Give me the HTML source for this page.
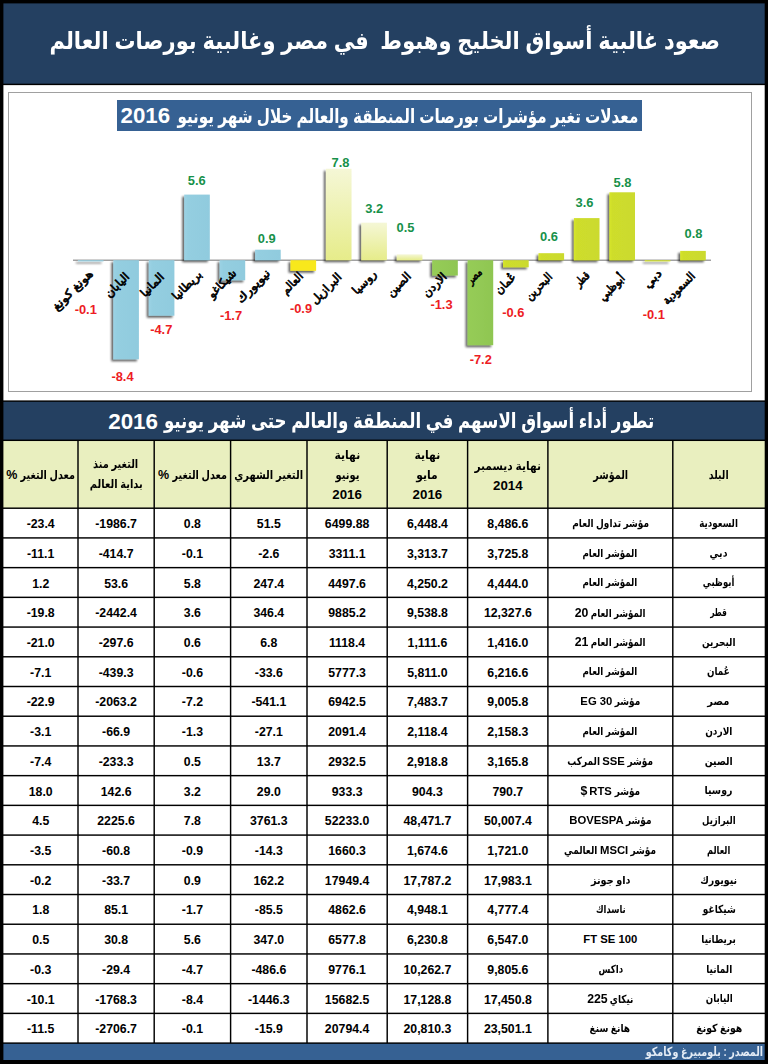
<!DOCTYPE html>
<html lang="ar"><head><meta charset="utf-8"><title>صعود غالبية أسواق الخليج</title>
<style>
html,body{margin:0;padding:0}
body{width:768px;height:1064px;background:#000;position:relative;overflow:hidden;font-family:"Liberation Sans","DejaVu Sans",sans-serif;font-weight:bold;color:#000}
.abs{position:absolute}
.c{position:absolute;display:flex;align-items:center;justify-content:center;text-align:center;background:#fff;white-space:nowrap;overflow:hidden}
.h{background:#e9efbf;font-size:12px;line-height:20px;direction:rtl;flex-direction:column}
.h .hn{font-size:13.3px;direction:ltr}
.h .pc{font-size:12.5px;white-space:pre}
.n{direction:ltr;font-size:12.3px}
.n span,.a>span{position:relative}
.ln{position:absolute;display:block}
.a{direction:rtl;font-size:11.1px}
svg text{font-family:"Liberation Sans","DejaVu Sans",sans-serif;font-weight:bold}
</style></head><body>
<div class="abs" style="left:3px;top:3px;width:762px;height:81px;background:#244061;color:#fff;font-size:24.2px;display:flex;align-items:center;justify-content:center;direction:rtl;white-space:pre"><span id="t1" style="display:inline-block;transform:scaleX(0.8668);margin:0 -51.50px;position:relative;top:-3px;left:0.5px">صعود غالبية أسواق الخليج وهبوط  في مصر وغالبية بورصات العالم</span></div>
<div class="abs" style="left:3px;top:85px;width:762px;height:316px;background:#fff"></div>
<div class="abs" style="left:8px;top:92px;width:742px;height:298px;border:1px solid #a0a0a0;box-sizing:content-box"></div>
<div class="abs" style="left:117px;top:100px;width:525px;height:31px;background:#366193;color:#fff;white-space:nowrap"><span class="abs" style="left:3.5px;top:0px;font-size:22.3px;line-height:31px;direction:ltr">2016</span><span id="t2" style="display:inline-block;transform:scaleX(0.7704);margin:0 0.00px;position:absolute;right:3.7px;top:1px;transform-origin:right center;font-size:19.7px;line-height:31px;direction:rtl">معدلات تغير مؤشرات بورصات المنطقة والعالم خلال شهر يونيو</span></div>
<svg width="760" height="255" viewBox="4 135 760 255" style="position:absolute;left:4px;top:135px">
<defs>
<linearGradient id="gb" x1="0" y1="0" x2="1" y2="0"><stop offset="0" stop-color="#9bd2e4"/><stop offset="0.15" stop-color="#94cee0"/><stop offset="1" stop-color="#90cbde"/></linearGradient>
<linearGradient id="gp" x1="0" y1="0" x2="0" y2="1"><stop offset="0" stop-color="#f5f7d6"/><stop offset="1" stop-color="#e6ec8a"/></linearGradient>
<linearGradient id="gg" x1="0" y1="0" x2="1" y2="0"><stop offset="0" stop-color="#96cc58"/><stop offset="1" stop-color="#8fc651"/></linearGradient>
<linearGradient id="gl" x1="0" y1="0" x2="1" y2="0"><stop offset="0" stop-color="#d6e52a"/><stop offset="0.12" stop-color="#cedd2c"/><stop offset="1" stop-color="#cbda2e"/></linearGradient>
<filter id="sh" x="-30%" y="-10%" width="160%" height="125%"><feGaussianBlur in="SourceAlpha" stdDeviation="1.0"/><feOffset dx="-2.0" dy="1.8"/><feComponentTransfer><feFuncA type="linear" slope="0.62"/></feComponentTransfer><feMerge><feMergeNode/><feMergeNode in="SourceGraphic"/></feMerge></filter>
</defs>
<rect x="73" y="259.6" width="638" height="1.2" fill="#8b8b8b"/>
<g filter="url(#sh)">
<rect x="77.9" y="260.2" width="25.6" height="1.2" fill="url(#gb)"/>
<rect x="113.3" y="260.2" width="25.6" height="99.1" fill="url(#gb)"/>
<rect x="148.8" y="260.2" width="25.6" height="55.5" fill="url(#gb)"/>
<rect x="184.2" y="194.6" width="25.6" height="65.6" fill="url(#gb)"/>
<rect x="219.6" y="260.2" width="25.6" height="20.1" fill="url(#gb)"/>
<rect x="255.1" y="249.7" width="25.6" height="10.5" fill="url(#gb)"/>
<rect x="290.5" y="260.2" width="25.6" height="10.6" fill="#f8e81e"/>
<rect x="325.9" y="168.8" width="25.6" height="91.4" fill="url(#gp)"/>
<rect x="361.3" y="222.7" width="25.6" height="37.5" fill="url(#gp)"/>
<rect x="396.8" y="254.4" width="25.6" height="5.9" fill="url(#gp)"/>
<rect x="432.2" y="260.2" width="25.6" height="15.3" fill="url(#gg)"/>
<rect x="467.6" y="260.2" width="25.6" height="85.0" fill="url(#gg)"/>
<rect x="503.1" y="260.2" width="25.6" height="7.1" fill="url(#gl)"/>
<rect x="538.5" y="253.2" width="25.6" height="7.0" fill="url(#gl)"/>
<rect x="573.9" y="218.1" width="25.6" height="42.2" fill="url(#gl)"/>
<rect x="609.4" y="192.3" width="25.6" height="68.0" fill="url(#gl)"/>
<rect x="644.8" y="260.2" width="25.6" height="1.2" fill="url(#gl)"/>
<rect x="680.2" y="250.9" width="25.6" height="9.4" fill="url(#gl)"/>
</g>
<text x="85.75" y="313.6" text-anchor="middle" font-size="12.9" fill="#ed1c24">-0.1</text>
<text x="122.5" y="381.1" text-anchor="middle" font-size="12.9" fill="#ed1c24">-8.4</text>
<text x="161.25" y="334.4" text-anchor="middle" font-size="12.9" fill="#ed1c24">-4.7</text>
<text x="196.75" y="184.6" text-anchor="middle" font-size="12.9" fill="#17914a">5.6</text>
<text x="231.0" y="319.6" text-anchor="middle" font-size="12.9" fill="#ed1c24">-1.7</text>
<text x="266.75" y="243.1" text-anchor="middle" font-size="12.9" fill="#17914a">0.9</text>
<text x="301.0" y="313.1" text-anchor="middle" font-size="12.9" fill="#ed1c24">-0.9</text>
<text x="340.5" y="166.8" text-anchor="middle" font-size="12.9" fill="#17914a">7.8</text>
<text x="374.25" y="213.1" text-anchor="middle" font-size="12.9" fill="#17914a">3.2</text>
<text x="405.5" y="231.8" text-anchor="middle" font-size="12.9" fill="#17914a">0.5</text>
<text x="441.5" y="308.6" text-anchor="middle" font-size="12.9" fill="#ed1c24">-1.3</text>
<text x="480.75" y="363.6" text-anchor="middle" font-size="12.9" fill="#ed1c24">-7.2</text>
<text x="513.25" y="317.4" text-anchor="middle" font-size="12.9" fill="#ed1c24">-0.6</text>
<text x="549.0" y="241.1" text-anchor="middle" font-size="12.9" fill="#17914a">0.6</text>
<text x="584.5" y="207.1" text-anchor="middle" font-size="12.9" fill="#17914a">3.6</text>
<text x="622.5" y="187.3" text-anchor="middle" font-size="12.9" fill="#17914a">5.8</text>
<text x="653.75" y="318.9" text-anchor="middle" font-size="12.9" fill="#ed1c24">-0.1</text>
<text x="693.5" y="237.8" text-anchor="middle" font-size="12.9" fill="#17914a">0.8</text>
<g font-size="11.5" font-weight="normal" fill="#000" stroke="#000" stroke-width="0.7" stroke-linejoin="round" direction="rtl" text-anchor="start">
<text style="font-weight:normal" transform="translate(90.8 271.65) rotate(-45) scale(1.15 1)" x="0" y="4">هونغ كونغ</text>
<text style="font-weight:normal" transform="translate(127.35 274.65) rotate(-45) scale(1.0199 1)" x="0" y="4">اليابان</text>
<text style="font-weight:normal" transform="translate(162.15 274.8) rotate(-45) scale(1.047 1)" x="0" y="4">المانيا</text>
<text style="font-weight:normal" transform="translate(199.7 272.3) rotate(-45) scale(1.0144 1)" x="0" y="4">بريطانيا</text>
<text style="font-weight:normal" transform="translate(234.35 271.0) rotate(-45) scale(1.0055 1)" x="0" y="4">شيكاغو</text>
<text style="font-weight:normal" transform="translate(268.0 271.15) rotate(-45) scale(1.15 1)" x="0" y="4">نيويورك</text>
<text style="font-weight:normal" transform="translate(301.0 274.15) rotate(-45) scale(0.9415 1)" x="0" y="4">العالم</text>
<text style="font-weight:normal" transform="translate(339.5 274.85) rotate(-45) scale(1.0357 1)" x="0" y="4">البرازيل</text>
<text style="font-weight:normal" transform="translate(374.35 271.85) rotate(-45) scale(1.0366 1)" x="0" y="4">روسيا</text>
<text style="font-weight:normal" transform="translate(408.85 274.15) rotate(-45) scale(0.9963 1)" x="0" y="4">الصين</text>
<text style="font-weight:normal" transform="translate(444.65 274.65) rotate(-45) scale(0.9917 1)" x="0" y="4">الاردن</text>
<text style="font-weight:normal" transform="translate(479.8 270.15) rotate(-45) scale(0.7377 1)" x="0" y="4">مصر</text>
<text style="font-weight:normal" transform="translate(513.75 274.75) rotate(-45) scale(0.9525 1)" x="0" y="4">عُمان</text>
<text style="font-weight:normal" transform="translate(550.3 274.65) rotate(-45) scale(0.9228 1)" x="0" y="4">البحرين</text>
<text style="font-weight:normal" transform="translate(587.5 273.35) rotate(-45) scale(0.7588 1)" x="0" y="4">قطر</text>
<text style="font-weight:normal" transform="translate(622.85 276.15) rotate(-45) scale(0.921 1)" x="0" y="4">أبوظبي</text>
<text style="font-weight:normal" transform="translate(659.7 271.35) rotate(-45) scale(1.15 1)" x="0" y="4">دبي</text>
<text style="font-weight:normal" transform="translate(693.0 274.0) rotate(-45) scale(0.9391 1)" x="0" y="4">السعودية</text>
</g>
</svg>
<div class="abs" style="left:3px;top:401px;width:762px;height:40px;background:#244061;color:#fff;white-space:nowrap"><span class="abs" style="left:105.2px;top:0.5px;font-size:22.4px;line-height:39px;direction:ltr">2016</span><span id="t3" style="display:inline-block;transform:scaleX(0.7919);margin:0 0.00px;position:absolute;right:111.0px;top:0px;transform-origin:right center;font-size:21px;line-height:39px;direction:rtl">تطور أداء أسواق الاسهم في المنطقة والعالم حتى شهر يونيو</span></div>
<div class="c h" style="left:673px;top:440px;width:92px;height:68px"><div style="position:relative;left:-0.2px;top:1.3px"><div><span id="h0_0" style="display:inline-block;transform:scaleX(0.7840);margin:0 -2.70px;">البلد</span></div></div></div>
<div class="c h" style="left:548px;top:440px;width:125px;height:68px"><div style="position:relative;left:-0.2px;top:1.3px"><div><span id="h1_0" style="display:inline-block;transform:scaleX(0.8023);margin:0 -4.25px;">المؤشر</span></div></div></div>
<div class="c h" style="left:468px;top:440px;width:80px;height:68px"><div style="position:relative;left:-0.2px;top:2.3px"><div><span id="h2_0" style="display:inline-block;transform:scaleX(0.8827);margin:0 -4.40px;">نهاية ديسمبر</span></div><div class="hn">2014</div></div></div>
<div class="c h" style="left:387px;top:440px;width:81px;height:68px"><div style="position:relative;left:-0.1px;top:0.8px"><div><span id="h3_0" style="display:inline-block;transform:scaleX(0.8966);margin:0 -1.50px;">نهاية</span></div><div><span id="h3_1" style="display:inline-block;transform:scaleX(0.8958);margin:0 -1.25px;">مايو</span></div><div class="hn">2016</div></div></div>
<div class="c h" style="left:307px;top:440px;width:80px;height:68px"><div style="position:relative;left:0.1px;top:0.8px"><div><span id="h4_0" style="display:inline-block;transform:scaleX(0.8966);margin:0 -1.50px;">نهاية</span></div><div><span id="h4_1" style="display:inline-block;transform:scaleX(0.8276);margin:0 -2.50px;">يونيو</span></div><div class="hn">2016</div></div></div>
<div class="c h" style="left:231px;top:440px;width:76px;height:68px"><div style="position:relative;left:-0.2px;top:1.3px"><div><span id="h5_0" style="display:inline-block;transform:scaleX(0.8283);margin:0 -7.13px;">التغير الشهري</span></div></div></div>
<div class="c h" style="left:154px;top:440px;width:77px;height:68px"><div style="position:relative;left:-0.1px;top:1.3px"><div><span id="h6_0" style="display:inline-block;transform:scaleX(0.8044);margin:0 -6.65px;">معدل التغير</span><span class="pc"> %</span></div></div></div>
<div class="c h" style="left:78px;top:440px;width:76px;height:68px"><div style="position:relative;left:0.1px;top:0.3px"><div><span id="h7_0" style="display:inline-block;transform:scaleX(0.8182);margin:0 -5.00px;">التغير منذ</span></div><div><span id="h7_1" style="display:inline-block;transform:scaleX(0.8203);margin:0 -5.75px;">بداية العالم</span></div></div></div>
<div class="c h" style="left:3px;top:440px;width:75px;height:68px"><div style="position:relative;left:0.2px;top:1.3px"><div><span id="h8_0" style="display:inline-block;transform:scaleX(0.8044);margin:0 -6.65px;">معدل التغير</span><span class="pc"> %</span></div></div></div>
<div class="c a" style="left:673px;top:508px;width:92px;height:30px"><span style="left:-0.2px;top:0.4px"><span id="c0_0" style="display:inline-block;transform:scaleX(0.7898);margin:0 -5.15px;">السعودية</span></span></div>
<div class="c a" style="left:548px;top:508px;width:125px;height:30px"><span style="left:-0.2px;top:0.4px"><span id="c0_1" style="display:inline-block;transform:scaleX(0.8053);margin:0 -9.25px;">مؤشر تداول العام</span></span></div>
<div class="c n" style="left:468px;top:508px;width:80px;height:30px"><span style="left:-0.2px;top:1.1px">8,486.6</span></div>
<div class="c n" style="left:387px;top:508px;width:81px;height:30px"><span style="left:-0.1px;top:1.1px">6,448.4</span></div>
<div class="c n" style="left:307px;top:508px;width:80px;height:30px"><span style="left:0.1px;top:1.1px">6499.88</span></div>
<div class="c n" style="left:231px;top:508px;width:76px;height:30px"><span style="left:-0.2px;top:1.1px">51.5</span></div>
<div class="c n" style="left:154px;top:508px;width:77px;height:30px"><span style="left:-0.1px;top:1.1px">0.8</span></div>
<div class="c n" style="left:78px;top:508px;width:76px;height:30px"><span style="left:0.1px;top:1.1px">-1986.7</span></div>
<div class="c n" style="left:3px;top:508px;width:75px;height:30px"><span style="left:0.2px;top:1.1px">-23.4</span></div>
<div class="c a" style="left:673px;top:538px;width:92px;height:30px"><span style="left:-0.2px;top:0.1px"><span id="c1_0" style="display:inline-block;transform:scaleX(0.8476);margin:0 -1.60px;">دبي</span></span></div>
<div class="c a" style="left:548px;top:538px;width:125px;height:30px"><span style="left:-0.2px;top:0.1px"><span id="c1_1" style="display:inline-block;transform:scaleX(0.7857);margin:0 -7.50px;">المؤشر العام</span></span></div>
<div class="c n" style="left:468px;top:538px;width:80px;height:30px"><span style="left:-0.2px;top:0.8px">3,725.8</span></div>
<div class="c n" style="left:387px;top:538px;width:81px;height:30px"><span style="left:-0.1px;top:0.8px">3,313.7</span></div>
<div class="c n" style="left:307px;top:538px;width:80px;height:30px"><span style="left:0.1px;top:0.8px">3311.1</span></div>
<div class="c n" style="left:231px;top:538px;width:76px;height:30px"><span style="left:-0.2px;top:0.8px">-2.6</span></div>
<div class="c n" style="left:154px;top:538px;width:77px;height:30px"><span style="left:-0.1px;top:0.8px">-0.1</span></div>
<div class="c n" style="left:78px;top:538px;width:76px;height:30px"><span style="left:0.1px;top:0.8px">-414.7</span></div>
<div class="c n" style="left:3px;top:538px;width:75px;height:30px"><span style="left:0.2px;top:0.8px">-11.1</span></div>
<div class="c a" style="left:673px;top:568px;width:92px;height:29px"><span style="left:-0.2px;top:0.3px"><span id="c2_0" style="display:inline-block;transform:scaleX(0.7683);margin:0 -4.75px;">أبوظبي</span></span></div>
<div class="c a" style="left:548px;top:568px;width:125px;height:29px"><span style="left:-0.2px;top:0.3px"><span id="c2_1" style="display:inline-block;transform:scaleX(0.7857);margin:0 -7.50px;">المؤشر العام</span></span></div>
<div class="c n" style="left:468px;top:568px;width:80px;height:29px"><span style="left:-0.2px;top:1.0px">4,444.0</span></div>
<div class="c n" style="left:387px;top:568px;width:81px;height:29px"><span style="left:-0.1px;top:1.0px">4,250.2</span></div>
<div class="c n" style="left:307px;top:568px;width:80px;height:29px"><span style="left:0.1px;top:1.0px">4497.6</span></div>
<div class="c n" style="left:231px;top:568px;width:76px;height:29px"><span style="left:-0.2px;top:1.0px">247.4</span></div>
<div class="c n" style="left:154px;top:568px;width:77px;height:29px"><span style="left:-0.1px;top:1.0px">5.8</span></div>
<div class="c n" style="left:78px;top:568px;width:76px;height:29px"><span style="left:0.1px;top:1.0px">53.6</span></div>
<div class="c n" style="left:3px;top:568px;width:75px;height:29px"><span style="left:0.2px;top:1.0px">1.2</span></div>
<div class="c a" style="left:673px;top:597px;width:92px;height:30px"><span style="left:-0.2px;top:0.5px"><span id="c3_0" style="display:inline-block;transform:scaleX(0.6640);margin:0 -4.20px;">قطر</span></span></div>
<div class="c a" style="left:548px;top:597px;width:125px;height:30px"><span style="left:-0.2px;top:0.5px"><span style="display:inline-block;transform:scaleX(0.7857)">المؤشر العام <span style="display:inline-block;direction:ltr;font-size:12.3px;transform:scaleX(1.2727);margin:0 1.87px">20</span></span></span></div>
<div class="c n" style="left:468px;top:597px;width:80px;height:30px"><span style="left:-0.2px;top:1.2px">12,327.6</span></div>
<div class="c n" style="left:387px;top:597px;width:81px;height:30px"><span style="left:-0.1px;top:1.2px">9,538.8</span></div>
<div class="c n" style="left:307px;top:597px;width:80px;height:30px"><span style="left:0.1px;top:1.2px">9885.2</span></div>
<div class="c n" style="left:231px;top:597px;width:76px;height:30px"><span style="left:-0.2px;top:1.2px">346.4</span></div>
<div class="c n" style="left:154px;top:597px;width:77px;height:30px"><span style="left:-0.1px;top:1.2px">3.6</span></div>
<div class="c n" style="left:78px;top:597px;width:76px;height:30px"><span style="left:0.1px;top:1.2px">-2442.4</span></div>
<div class="c n" style="left:3px;top:597px;width:75px;height:30px"><span style="left:0.2px;top:1.2px">-19.8</span></div>
<div class="c a" style="left:673px;top:627px;width:92px;height:30px"><span style="left:-0.2px;top:0.2px"><span id="c4_0" style="display:inline-block;transform:scaleX(0.8048);margin:0 -4.10px;">البحرين</span></span></div>
<div class="c a" style="left:548px;top:627px;width:125px;height:30px"><span style="left:-0.2px;top:0.2px"><span style="display:inline-block;transform:scaleX(0.7857)">المؤشر العام <span style="display:inline-block;direction:ltr;font-size:12.3px;transform:scaleX(1.2727);margin:0 1.87px">21</span></span></span></div>
<div class="c n" style="left:468px;top:627px;width:80px;height:30px"><span style="left:-0.2px;top:0.9px">1,416.0</span></div>
<div class="c n" style="left:387px;top:627px;width:81px;height:30px"><span style="left:-0.1px;top:0.9px">1,111.6</span></div>
<div class="c n" style="left:307px;top:627px;width:80px;height:30px"><span style="left:0.1px;top:0.9px">1118.4</span></div>
<div class="c n" style="left:231px;top:627px;width:76px;height:30px"><span style="left:-0.2px;top:0.9px">6.8</span></div>
<div class="c n" style="left:154px;top:627px;width:77px;height:30px"><span style="left:-0.1px;top:0.9px">0.6</span></div>
<div class="c n" style="left:78px;top:627px;width:76px;height:30px"><span style="left:0.1px;top:0.9px">-297.6</span></div>
<div class="c n" style="left:3px;top:627px;width:75px;height:30px"><span style="left:0.2px;top:0.9px">-21.0</span></div>
<div class="c a" style="left:673px;top:657px;width:92px;height:29px"><span style="left:-0.2px;top:0.4px"><span id="c5_0" style="display:inline-block;transform:scaleX(0.7897);margin:0 -3.05px;">عُمان</span></span></div>
<div class="c a" style="left:548px;top:657px;width:125px;height:29px"><span style="left:-0.2px;top:0.4px"><span id="c5_1" style="display:inline-block;transform:scaleX(0.7857);margin:0 -7.50px;">المؤشر العام</span></span></div>
<div class="c n" style="left:468px;top:657px;width:80px;height:29px"><span style="left:-0.2px;top:1.1px">6,216.6</span></div>
<div class="c n" style="left:387px;top:657px;width:81px;height:29px"><span style="left:-0.1px;top:1.1px">5,811.0</span></div>
<div class="c n" style="left:307px;top:657px;width:80px;height:29px"><span style="left:0.1px;top:1.1px">5777.3</span></div>
<div class="c n" style="left:231px;top:657px;width:76px;height:29px"><span style="left:-0.2px;top:1.1px">-33.6</span></div>
<div class="c n" style="left:154px;top:657px;width:77px;height:29px"><span style="left:-0.1px;top:1.1px">-0.6</span></div>
<div class="c n" style="left:78px;top:657px;width:76px;height:29px"><span style="left:0.1px;top:1.1px">-439.3</span></div>
<div class="c n" style="left:3px;top:657px;width:75px;height:29px"><span style="left:0.2px;top:1.1px">-7.1</span></div>
<div class="c a" style="left:673px;top:686px;width:92px;height:30px"><span style="left:-0.2px;top:0.7px"><span id="c6_0" style="display:inline-block;transform:scaleX(0.8920);margin:0 -1.35px;">مصر</span></span></div>
<div class="c a" style="left:548px;top:686px;width:125px;height:30px"><span style="left:-0.2px;top:0.7px"><span style="display:inline-block;transform:scaleX(0.8053)">مؤشر <span style="display:inline-block;direction:ltr;font-size:11.3px;transform:scaleX(1.2418);margin:0 3.87px">EG 30</span></span></span></div>
<div class="c n" style="left:468px;top:686px;width:80px;height:30px"><span style="left:-0.2px;top:1.4px">9,005.8</span></div>
<div class="c n" style="left:387px;top:686px;width:81px;height:30px"><span style="left:-0.1px;top:1.4px">7,483.7</span></div>
<div class="c n" style="left:307px;top:686px;width:80px;height:30px"><span style="left:0.1px;top:1.4px">6942.5</span></div>
<div class="c n" style="left:231px;top:686px;width:76px;height:30px"><span style="left:-0.2px;top:1.4px">-541.1</span></div>
<div class="c n" style="left:154px;top:686px;width:77px;height:30px"><span style="left:-0.1px;top:1.4px">-7.2</span></div>
<div class="c n" style="left:78px;top:686px;width:76px;height:30px"><span style="left:0.1px;top:1.4px">-2063.2</span></div>
<div class="c n" style="left:3px;top:686px;width:75px;height:30px"><span style="left:0.2px;top:1.4px">-22.9</span></div>
<div class="c a" style="left:673px;top:716px;width:92px;height:30px"><span style="left:-0.2px;top:0.4px"><span id="c7_0" style="display:inline-block;transform:scaleX(0.8088);margin:0 -3.25px;">الاردن</span></span></div>
<div class="c a" style="left:548px;top:716px;width:125px;height:30px"><span style="left:-0.2px;top:0.4px"><span id="c7_1" style="display:inline-block;transform:scaleX(0.7857);margin:0 -7.50px;">المؤشر العام</span></span></div>
<div class="c n" style="left:468px;top:716px;width:80px;height:30px"><span style="left:-0.2px;top:1.1px">2,158.3</span></div>
<div class="c n" style="left:387px;top:716px;width:81px;height:30px"><span style="left:-0.1px;top:1.1px">2,118.4</span></div>
<div class="c n" style="left:307px;top:716px;width:80px;height:30px"><span style="left:0.1px;top:1.1px">2091.4</span></div>
<div class="c n" style="left:231px;top:716px;width:76px;height:30px"><span style="left:-0.2px;top:1.1px">-27.1</span></div>
<div class="c n" style="left:154px;top:716px;width:77px;height:30px"><span style="left:-0.1px;top:1.1px">-1.3</span></div>
<div class="c n" style="left:78px;top:716px;width:76px;height:30px"><span style="left:0.1px;top:1.1px">-66.9</span></div>
<div class="c n" style="left:3px;top:716px;width:75px;height:30px"><span style="left:0.2px;top:1.1px">-3.1</span></div>
<div class="c a" style="left:673px;top:746px;width:92px;height:30px"><span style="left:-0.2px;top:0.1px"><span id="c8_0" style="display:inline-block;transform:scaleX(0.8333);margin:0 -2.75px;">الصين</span></span></div>
<div class="c a" style="left:548px;top:746px;width:125px;height:30px"><span style="left:-0.2px;top:0.1px"><span style="display:inline-block;transform:scaleX(0.8053)">مؤشر <span style="display:inline-block;direction:ltr;font-size:11.3px;transform:scaleX(1.2418);margin:0 2.73px">SSE</span> المركب</span></span></div>
<div class="c n" style="left:468px;top:746px;width:80px;height:30px"><span style="left:-0.2px;top:0.8px">3,165.8</span></div>
<div class="c n" style="left:387px;top:746px;width:81px;height:30px"><span style="left:-0.1px;top:0.8px">2,918.8</span></div>
<div class="c n" style="left:307px;top:746px;width:80px;height:30px"><span style="left:0.1px;top:0.8px">2932.5</span></div>
<div class="c n" style="left:231px;top:746px;width:76px;height:30px"><span style="left:-0.2px;top:0.8px">13.7</span></div>
<div class="c n" style="left:154px;top:746px;width:77px;height:30px"><span style="left:-0.1px;top:0.8px">0.5</span></div>
<div class="c n" style="left:78px;top:746px;width:76px;height:30px"><span style="left:0.1px;top:0.8px">-233.3</span></div>
<div class="c n" style="left:3px;top:746px;width:75px;height:30px"><span style="left:0.2px;top:0.8px">-7.4</span></div>
<div class="c a" style="left:673px;top:776px;width:92px;height:29px"><span style="left:-0.2px;top:0.3px"><span id="c9_0" style="display:inline-block;transform:scaleX(0.8485);margin:0 -2.50px;">روسيا</span></span></div>
<div class="c a" style="left:548px;top:776px;width:125px;height:29px"><span style="left:-0.2px;top:0.3px"><span style="display:inline-block;transform:scaleX(0.8053)">مؤشر <span style="display:inline-block;direction:ltr;font-size:11.3px;transform:scaleX(1.2418);margin:0 2.73px">RTS</span> <span style="display:inline-block;direction:ltr;font-size:12.3px;transform:scaleX(1.2418);margin:0 0.83px">$</span></span></span></div>
<div class="c n" style="left:468px;top:776px;width:80px;height:29px"><span style="left:-0.2px;top:1.0px">790.7</span></div>
<div class="c n" style="left:387px;top:776px;width:81px;height:29px"><span style="left:-0.1px;top:1.0px">904.3</span></div>
<div class="c n" style="left:307px;top:776px;width:80px;height:29px"><span style="left:0.1px;top:1.0px">933.3</span></div>
<div class="c n" style="left:231px;top:776px;width:76px;height:29px"><span style="left:-0.2px;top:1.0px">29.0</span></div>
<div class="c n" style="left:154px;top:776px;width:77px;height:29px"><span style="left:-0.1px;top:1.0px">3.2</span></div>
<div class="c n" style="left:78px;top:776px;width:76px;height:29px"><span style="left:0.1px;top:1.0px">142.6</span></div>
<div class="c n" style="left:3px;top:776px;width:75px;height:29px"><span style="left:0.2px;top:1.0px">18.0</span></div>
<div class="c a" style="left:673px;top:805px;width:92px;height:30px"><span style="left:-0.2px;top:0.5px"><span id="c10_0" style="display:inline-block;transform:scaleX(0.7682);margin:0 -5.10px;">البرازيل</span></span></div>
<div class="c a" style="left:548px;top:805px;width:125px;height:30px"><span style="left:-0.2px;top:0.5px"><span style="display:inline-block;transform:scaleX(0.8053)">مؤشر <span style="display:inline-block;direction:ltr;font-size:11.3px;transform:scaleX(1.2418);margin:0 6.68px">BOVESPA</span></span></span></div>
<div class="c n" style="left:468px;top:805px;width:80px;height:30px"><span style="left:-0.2px;top:1.2px">50,007.4</span></div>
<div class="c n" style="left:387px;top:805px;width:81px;height:30px"><span style="left:-0.1px;top:1.2px">48,471.7</span></div>
<div class="c n" style="left:307px;top:805px;width:80px;height:30px"><span style="left:0.1px;top:1.2px">52233.0</span></div>
<div class="c n" style="left:231px;top:805px;width:76px;height:30px"><span style="left:-0.2px;top:1.2px">3761.3</span></div>
<div class="c n" style="left:154px;top:805px;width:77px;height:30px"><span style="left:-0.1px;top:1.2px">7.8</span></div>
<div class="c n" style="left:78px;top:805px;width:76px;height:30px"><span style="left:0.1px;top:1.2px">2225.6</span></div>
<div class="c n" style="left:3px;top:805px;width:75px;height:30px"><span style="left:0.2px;top:1.2px">4.5</span></div>
<div class="c a" style="left:673px;top:835px;width:92px;height:30px"><span style="left:-0.2px;top:0.2px"><span id="c11_0" style="display:inline-block;transform:scaleX(0.7484);margin:0 -3.90px;">العالم</span></span></div>
<div class="c a" style="left:548px;top:835px;width:125px;height:30px"><span style="left:-0.2px;top:0.2px"><span style="display:inline-block;transform:scaleX(0.8053)">مؤشر <span style="display:inline-block;direction:ltr;font-size:11.3px;transform:scaleX(1.2418);margin:0 3.42px">MSCI</span> العالمي</span></span></div>
<div class="c n" style="left:468px;top:835px;width:80px;height:30px"><span style="left:-0.2px;top:0.9px">1,721.0</span></div>
<div class="c n" style="left:387px;top:835px;width:81px;height:30px"><span style="left:-0.1px;top:0.9px">1,674.6</span></div>
<div class="c n" style="left:307px;top:835px;width:80px;height:30px"><span style="left:0.1px;top:0.9px">1660.3</span></div>
<div class="c n" style="left:231px;top:835px;width:76px;height:30px"><span style="left:-0.2px;top:0.9px">-14.3</span></div>
<div class="c n" style="left:154px;top:835px;width:77px;height:30px"><span style="left:-0.1px;top:0.9px">-0.9</span></div>
<div class="c n" style="left:78px;top:835px;width:76px;height:30px"><span style="left:0.1px;top:0.9px">-60.8</span></div>
<div class="c n" style="left:3px;top:835px;width:75px;height:30px"><span style="left:0.2px;top:0.9px">-3.5</span></div>
<div class="c a" style="left:673px;top:865px;width:92px;height:30px"><span style="left:-0.2px;top:-0.0px"><span id="c12_0" style="display:inline-block;transform:scaleX(0.8535);margin:0 -3.15px;">نيويورك</span></span></div>
<div class="c a" style="left:548px;top:865px;width:125px;height:30px"><span style="left:-0.2px;top:-0.0px"><span id="c12_1" style="display:inline-block;transform:scaleX(0.8717);margin:0 -2.95px;">داو جونز</span></span></div>
<div class="c n" style="left:468px;top:865px;width:80px;height:30px"><span style="left:-0.2px;top:0.7px">17,983.1</span></div>
<div class="c n" style="left:387px;top:865px;width:81px;height:30px"><span style="left:-0.1px;top:0.7px">17,787.2</span></div>
<div class="c n" style="left:307px;top:865px;width:80px;height:30px"><span style="left:0.1px;top:0.7px">17949.4</span></div>
<div class="c n" style="left:231px;top:865px;width:76px;height:30px"><span style="left:-0.2px;top:0.7px">162.2</span></div>
<div class="c n" style="left:154px;top:865px;width:77px;height:30px"><span style="left:-0.1px;top:0.7px">0.9</span></div>
<div class="c n" style="left:78px;top:865px;width:76px;height:30px"><span style="left:0.1px;top:0.7px">-33.7</span></div>
<div class="c n" style="left:3px;top:865px;width:75px;height:30px"><span style="left:0.2px;top:0.7px">-0.2</span></div>
<div class="c a" style="left:673px;top:895px;width:92px;height:29px"><span style="left:-0.2px;top:0.2px"><span id="c13_0" style="display:inline-block;transform:scaleX(0.8098);margin:0 -3.90px;">شيكاغو</span></span></div>
<div class="c a" style="left:548px;top:895px;width:125px;height:29px"><span style="left:-0.2px;top:0.2px"><span id="c13_1" style="display:inline-block;transform:scaleX(0.7525);margin:0 -4.95px;">ناسداك</span></span></div>
<div class="c n" style="left:468px;top:895px;width:80px;height:29px"><span style="left:-0.2px;top:0.9px">4,777.4</span></div>
<div class="c n" style="left:387px;top:895px;width:81px;height:29px"><span style="left:-0.1px;top:0.9px">4,948.1</span></div>
<div class="c n" style="left:307px;top:895px;width:80px;height:29px"><span style="left:0.1px;top:0.9px">4862.6</span></div>
<div class="c n" style="left:231px;top:895px;width:76px;height:29px"><span style="left:-0.2px;top:0.9px">-85.5</span></div>
<div class="c n" style="left:154px;top:895px;width:77px;height:29px"><span style="left:-0.1px;top:0.9px">-1.7</span></div>
<div class="c n" style="left:78px;top:895px;width:76px;height:29px"><span style="left:0.1px;top:0.9px">85.1</span></div>
<div class="c n" style="left:3px;top:895px;width:75px;height:29px"><span style="left:0.2px;top:0.9px">1.8</span></div>
<div class="c a" style="left:673px;top:924px;width:92px;height:30px"><span style="left:-0.2px;top:0.4px"><span id="c14_0" style="display:inline-block;transform:scaleX(0.8000);margin:0 -4.30px;">بريطانيا</span></span></div>
<div class="c a" style="left:548px;top:924px;width:125px;height:30px"><span style="left:-0.2px;top:0.4px"><span style="direction:ltr;font-size:11.3px">FT SE 100</span></span></div>
<div class="c n" style="left:468px;top:924px;width:80px;height:30px"><span style="left:-0.2px;top:1.1px">6,547.0</span></div>
<div class="c n" style="left:387px;top:924px;width:81px;height:30px"><span style="left:-0.1px;top:1.1px">6,230.8</span></div>
<div class="c n" style="left:307px;top:924px;width:80px;height:30px"><span style="left:0.1px;top:1.1px">6577.8</span></div>
<div class="c n" style="left:231px;top:924px;width:76px;height:30px"><span style="left:-0.2px;top:1.1px">347.0</span></div>
<div class="c n" style="left:154px;top:924px;width:77px;height:30px"><span style="left:-0.1px;top:1.1px">5.6</span></div>
<div class="c n" style="left:78px;top:924px;width:76px;height:30px"><span style="left:0.1px;top:1.1px">30.8</span></div>
<div class="c n" style="left:3px;top:924px;width:75px;height:30px"><span style="left:0.2px;top:1.1px">0.5</span></div>
<div class="c a" style="left:673px;top:954px;width:92px;height:30px"><span style="left:-0.2px;top:0.1px"><span id="c15_0" style="display:inline-block;transform:scaleX(0.8063);margin:0 -3.10px;">المانيا</span></span></div>
<div class="c a" style="left:548px;top:954px;width:125px;height:30px"><span style="left:-0.2px;top:0.1px"><span id="c15_1" style="display:inline-block;transform:scaleX(0.7781);margin:0 -3.55px;">داكس</span></span></div>
<div class="c n" style="left:468px;top:954px;width:80px;height:30px"><span style="left:-0.2px;top:0.8px">9,805.6</span></div>
<div class="c n" style="left:387px;top:954px;width:81px;height:30px"><span style="left:-0.1px;top:0.8px">10,262.7</span></div>
<div class="c n" style="left:307px;top:954px;width:80px;height:30px"><span style="left:0.1px;top:0.8px">9776.1</span></div>
<div class="c n" style="left:231px;top:954px;width:76px;height:30px"><span style="left:-0.2px;top:0.8px">-486.6</span></div>
<div class="c n" style="left:154px;top:954px;width:77px;height:30px"><span style="left:-0.1px;top:0.8px">-4.7</span></div>
<div class="c n" style="left:78px;top:954px;width:76px;height:30px"><span style="left:0.1px;top:0.8px">-29.4</span></div>
<div class="c n" style="left:3px;top:954px;width:75px;height:30px"><span style="left:0.2px;top:0.8px">-0.3</span></div>
<div class="c a" style="left:673px;top:984px;width:92px;height:29px"><span style="left:-0.2px;top:0.3px"><span id="c16_0" style="display:inline-block;transform:scaleX(0.7824);margin:0 -3.70px;">اليابان</span></span></div>
<div class="c a" style="left:548px;top:984px;width:125px;height:29px"><span style="left:-0.2px;top:0.3px"><span style="display:inline-block;transform:scaleX(0.8000)">نيكاي <span style="display:inline-block;direction:ltr;font-size:12.3px;transform:scaleX(1.2500);margin:0 2.57px">225</span></span></span></div>
<div class="c n" style="left:468px;top:984px;width:80px;height:29px"><span style="left:-0.2px;top:1.0px">17,450.8</span></div>
<div class="c n" style="left:387px;top:984px;width:81px;height:29px"><span style="left:-0.1px;top:1.0px">17,128.8</span></div>
<div class="c n" style="left:307px;top:984px;width:80px;height:29px"><span style="left:0.1px;top:1.0px">15682.5</span></div>
<div class="c n" style="left:231px;top:984px;width:76px;height:29px"><span style="left:-0.2px;top:1.0px">-1446.3</span></div>
<div class="c n" style="left:154px;top:984px;width:77px;height:29px"><span style="left:-0.1px;top:1.0px">-8.4</span></div>
<div class="c n" style="left:78px;top:984px;width:76px;height:29px"><span style="left:0.1px;top:1.0px">-1768.3</span></div>
<div class="c n" style="left:3px;top:984px;width:75px;height:29px"><span style="left:0.2px;top:1.0px">-10.1</span></div>
<div class="c a" style="left:673px;top:1013px;width:92px;height:30px"><span style="left:-0.2px;top:0.5px"><span id="c17_0" style="display:inline-block;transform:scaleX(0.8436);margin:0 -4.30px;">هونغ كونغ</span></span></div>
<div class="c a" style="left:548px;top:1013px;width:125px;height:30px"><span style="left:-0.2px;top:0.5px"><span id="c17_1" style="display:inline-block;transform:scaleX(0.8140);margin:0 -4.65px;">هانغ سنغ</span></span></div>
<div class="c n" style="left:468px;top:1013px;width:80px;height:30px"><span style="left:-0.2px;top:1.2px">23,501.1</span></div>
<div class="c n" style="left:387px;top:1013px;width:81px;height:30px"><span style="left:-0.1px;top:1.2px">20,810.3</span></div>
<div class="c n" style="left:307px;top:1013px;width:80px;height:30px"><span style="left:0.1px;top:1.2px">20794.4</span></div>
<div class="c n" style="left:231px;top:1013px;width:76px;height:30px"><span style="left:-0.2px;top:1.2px">-15.9</span></div>
<div class="c n" style="left:154px;top:1013px;width:77px;height:30px"><span style="left:-0.1px;top:1.2px">-0.1</span></div>
<div class="c n" style="left:78px;top:1013px;width:76px;height:30px"><span style="left:0.1px;top:1.2px">-2706.7</span></div>
<div class="c n" style="left:3px;top:1013px;width:75px;height:30px"><span style="left:0.2px;top:1.2px">-11.5</span></div>
<div class="abs" style="left:3px;top:1043px;width:762px;height:17px;background:#366193;color:#e3ebf5;font-size:12.5px;direction:rtl;text-align:right;line-height:18px;white-space:nowrap"><span id="t4" style="display:inline-block;transform:scaleX(0.7667);margin:0 0.00px;transform-origin:right center;margin-right:1.5px">المصدر : بلومبيرغ وكامكو</span></div>
<i class="ln" style="left:77px;top:441px;width:1px;height:602px;background:rgba(0,0,0,0.72)"></i><i class="ln" style="left:78px;top:441px;width:1px;height:602px;background:rgba(0,0,0,0.72)"></i>
<i class="ln" style="left:153px;top:441px;width:1px;height:602px;background:rgba(0,0,0,0.53)"></i><i class="ln" style="left:154px;top:441px;width:1px;height:602px;background:rgba(0,0,0,0.92)"></i>
<i class="ln" style="left:229px;top:441px;width:1px;height:602px;background:rgba(0,0,0,0.12)"></i><i class="ln" style="left:230px;top:441px;width:1px;height:602px;background:rgba(0,0,0,1.00)"></i><i class="ln" style="left:231px;top:441px;width:1px;height:602px;background:rgba(0,0,0,0.32)"></i>
<i class="ln" style="left:306px;top:441px;width:1px;height:602px;background:rgba(0,0,0,0.73)"></i><i class="ln" style="left:307px;top:441px;width:1px;height:602px;background:rgba(0,0,0,0.73)"></i>
<i class="ln" style="left:386px;top:441px;width:1px;height:602px;background:rgba(0,0,0,0.53)"></i><i class="ln" style="left:387px;top:441px;width:1px;height:602px;background:rgba(0,0,0,0.93)"></i>
<i class="ln" style="left:466px;top:441px;width:1px;height:602px;background:rgba(0,0,0,0.12)"></i><i class="ln" style="left:467px;top:441px;width:1px;height:602px;background:rgba(0,0,0,1.00)"></i><i class="ln" style="left:468px;top:441px;width:1px;height:602px;background:rgba(0,0,0,0.33)"></i>
<i class="ln" style="left:547px;top:441px;width:1px;height:602px;background:rgba(0,0,0,0.83)"></i><i class="ln" style="left:548px;top:441px;width:1px;height:602px;background:rgba(0,0,0,0.62)"></i>
<i class="ln" style="left:672px;top:441px;width:1px;height:602px;background:rgba(0,0,0,0.93)"></i><i class="ln" style="left:673px;top:441px;width:1px;height:602px;background:rgba(0,0,0,0.52)"></i>
<i class="ln" style="left:3px;top:439px;width:762px;height:1px;background:rgba(0,0,0,0.43)"></i><i class="ln" style="left:3px;top:440px;width:762px;height:1px;background:rgba(0,0,0,1.00)"></i><i class="ln" style="left:3px;top:441px;width:762px;height:1px;background:rgba(0,0,0,0.03)"></i>
<i class="ln" style="left:3px;top:507px;width:762px;height:1px;background:rgba(0,0,0,0.53)"></i><i class="ln" style="left:3px;top:508px;width:762px;height:1px;background:rgba(0,0,0,0.93)"></i>
<i class="ln" style="left:3px;top:537px;width:762px;height:1px;background:rgba(0,0,0,0.81)"></i><i class="ln" style="left:3px;top:538px;width:762px;height:1px;background:rgba(0,0,0,0.64)"></i>
<i class="ln" style="left:3px;top:566px;width:762px;height:1px;background:rgba(0,0,0,0.09)"></i><i class="ln" style="left:3px;top:567px;width:762px;height:1px;background:rgba(0,0,0,1.00)"></i><i class="ln" style="left:3px;top:568px;width:762px;height:1px;background:rgba(0,0,0,0.36)"></i>
<i class="ln" style="left:3px;top:596px;width:762px;height:1px;background:rgba(0,0,0,0.38)"></i><i class="ln" style="left:3px;top:597px;width:762px;height:1px;background:rgba(0,0,0,1.00)"></i><i class="ln" style="left:3px;top:598px;width:762px;height:1px;background:rgba(0,0,0,0.07)"></i>
<i class="ln" style="left:3px;top:626px;width:762px;height:1px;background:rgba(0,0,0,0.66)"></i><i class="ln" style="left:3px;top:627px;width:762px;height:1px;background:rgba(0,0,0,0.79)"></i>
<i class="ln" style="left:3px;top:656px;width:762px;height:1px;background:rgba(0,0,0,0.94)"></i><i class="ln" style="left:3px;top:657px;width:762px;height:1px;background:rgba(0,0,0,0.51)"></i>
<i class="ln" style="left:3px;top:685px;width:762px;height:1px;background:rgba(0,0,0,0.23)"></i><i class="ln" style="left:3px;top:686px;width:762px;height:1px;background:rgba(0,0,0,1.00)"></i><i class="ln" style="left:3px;top:687px;width:762px;height:1px;background:rgba(0,0,0,0.23)"></i>
<i class="ln" style="left:3px;top:715px;width:762px;height:1px;background:rgba(0,0,0,0.51)"></i><i class="ln" style="left:3px;top:716px;width:762px;height:1px;background:rgba(0,0,0,0.94)"></i>
<i class="ln" style="left:3px;top:745px;width:762px;height:1px;background:rgba(0,0,0,0.79)"></i><i class="ln" style="left:3px;top:746px;width:762px;height:1px;background:rgba(0,0,0,0.66)"></i>
<i class="ln" style="left:3px;top:774px;width:762px;height:1px;background:rgba(0,0,0,0.08)"></i><i class="ln" style="left:3px;top:775px;width:762px;height:1px;background:rgba(0,0,0,1.00)"></i><i class="ln" style="left:3px;top:776px;width:762px;height:1px;background:rgba(0,0,0,0.37)"></i>
<i class="ln" style="left:3px;top:804px;width:762px;height:1px;background:rgba(0,0,0,0.36)"></i><i class="ln" style="left:3px;top:805px;width:762px;height:1px;background:rgba(0,0,0,1.00)"></i><i class="ln" style="left:3px;top:806px;width:762px;height:1px;background:rgba(0,0,0,0.09)"></i>
<i class="ln" style="left:3px;top:834px;width:762px;height:1px;background:rgba(0,0,0,0.64)"></i><i class="ln" style="left:3px;top:835px;width:762px;height:1px;background:rgba(0,0,0,0.81)"></i>
<i class="ln" style="left:3px;top:864px;width:762px;height:1px;background:rgba(0,0,0,0.93)"></i><i class="ln" style="left:3px;top:865px;width:762px;height:1px;background:rgba(0,0,0,0.52)"></i>
<i class="ln" style="left:3px;top:893px;width:762px;height:1px;background:rgba(0,0,0,0.21)"></i><i class="ln" style="left:3px;top:894px;width:762px;height:1px;background:rgba(0,0,0,1.00)"></i><i class="ln" style="left:3px;top:895px;width:762px;height:1px;background:rgba(0,0,0,0.24)"></i>
<i class="ln" style="left:3px;top:923px;width:762px;height:1px;background:rgba(0,0,0,0.49)"></i><i class="ln" style="left:3px;top:924px;width:762px;height:1px;background:rgba(0,0,0,0.96)"></i>
<i class="ln" style="left:3px;top:953px;width:762px;height:1px;background:rgba(0,0,0,0.78)"></i><i class="ln" style="left:3px;top:954px;width:762px;height:1px;background:rgba(0,0,0,0.67)"></i>
<i class="ln" style="left:3px;top:982px;width:762px;height:1px;background:rgba(0,0,0,0.06)"></i><i class="ln" style="left:3px;top:983px;width:762px;height:1px;background:rgba(0,0,0,1.00)"></i><i class="ln" style="left:3px;top:984px;width:762px;height:1px;background:rgba(0,0,0,0.39)"></i>
<i class="ln" style="left:3px;top:1012px;width:762px;height:1px;background:rgba(0,0,0,0.34)"></i><i class="ln" style="left:3px;top:1013px;width:762px;height:1px;background:rgba(0,0,0,1.00)"></i><i class="ln" style="left:3px;top:1014px;width:762px;height:1px;background:rgba(0,0,0,0.11)"></i>
<i class="ln" style="left:3px;top:1042px;width:762px;height:1px;background:rgba(0,0,0,0.62)"></i><i class="ln" style="left:3px;top:1043px;width:762px;height:1px;background:rgba(0,0,0,0.82)"></i>
<i class="ln" style="left:1px;top:0px;width:1px;height:1064px;background:rgba(0,0,0,0.60)"></i><i class="ln" style="left:2px;top:0px;width:1px;height:1064px;background:rgba(0,0,0,1.00)"></i><i class="ln" style="left:3px;top:0px;width:1px;height:1064px;background:rgba(0,0,0,0.40)"></i>
<i class="ln" style="left:764px;top:0px;width:1px;height:1064px;background:rgba(0,0,0,0.30)"></i><i class="ln" style="left:765px;top:0px;width:1px;height:1064px;background:rgba(0,0,0,1.00)"></i><i class="ln" style="left:766px;top:0px;width:1px;height:1064px;background:rgba(0,0,0,0.70)"></i>
<i class="ln" style="left:3px;top:83px;width:762px;height:1px;background:rgba(0,0,0,0.32)"></i><i class="ln" style="left:3px;top:84px;width:762px;height:1px;background:rgba(0,0,0,1.00)"></i><i class="ln" style="left:3px;top:85px;width:762px;height:1px;background:rgba(0,0,0,0.12)"></i>
<i class="ln" style="left:3px;top:400px;width:762px;height:1px;background:rgba(0,0,0,0.60)"></i><i class="ln" style="left:3px;top:401px;width:762px;height:1px;background:rgba(0,0,0,0.80)"></i>
<i class="ln" style="left:0px;top:1px;width:768px;height:1px;background:rgba(0,0,0,0.60)"></i><i class="ln" style="left:0px;top:2px;width:768px;height:1px;background:rgba(0,0,0,1.00)"></i><i class="ln" style="left:0px;top:3px;width:768px;height:1px;background:rgba(0,0,0,0.40)"></i>
</body></html>
